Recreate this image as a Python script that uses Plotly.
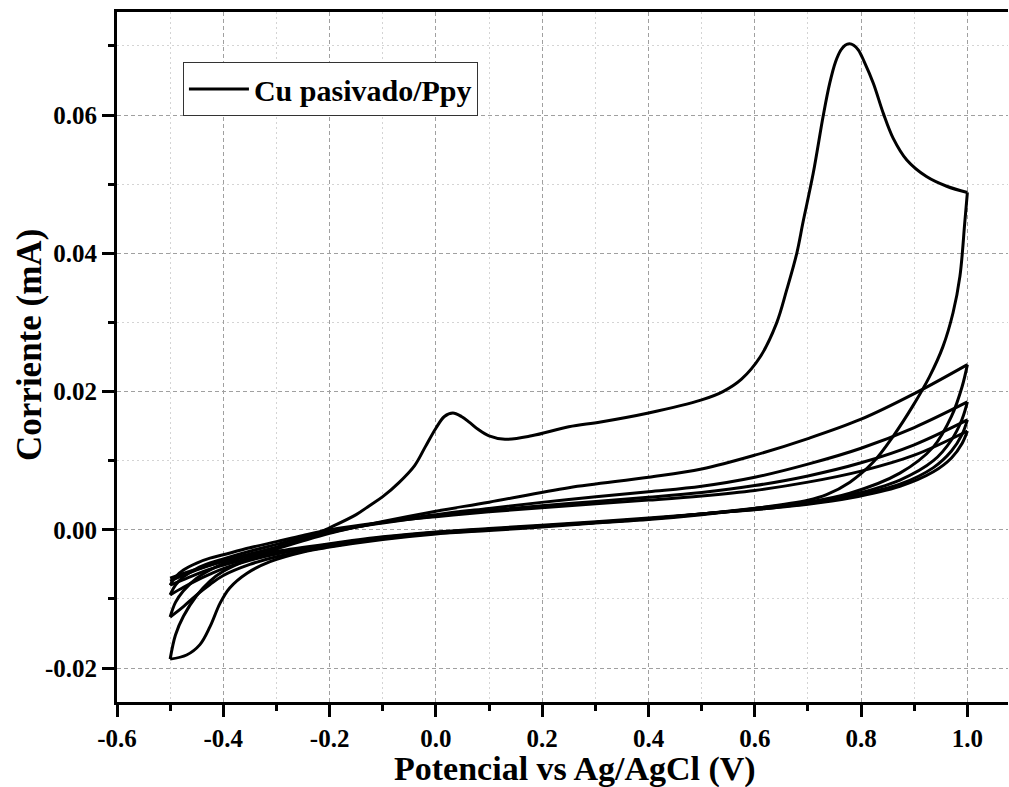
import plotly.graph_objects as go

# Cyclic voltammogram of passivated Cu / polypyrrole, 5 cycles (-0.5 V to 1.0 V)

# Cycle 1, anodic sweep
E_c1_fwd = [-0.5, -0.45, -0.4, -0.35, -0.3, -0.25, -0.2, -0.15, -0.125, -0.1, -0.07, -0.04,
            -0.02, 0.0, 0.016, 0.032, 0.048, 0.064, 0.08, 0.10, 0.13, 0.18, 0.25, 0.31,
            0.4, 0.5, 0.54, 0.575, 0.61, 0.641, 0.66, 0.679, 0.691, 0.71, 0.729, 0.741,
            0.752, 0.762, 0.770, 0.778, 0.786, 0.795, 0.806, 0.823, 0.842, 0.86, 0.886,
            0.923, 0.961, 1.0]
I_c1_fwd = [-0.0074, -0.0058, -0.0045, -0.0035, -0.0026, -0.0014, 0.0003, 0.0022, 0.0035,
            0.0048, 0.0068, 0.0093, 0.0120, 0.0147, 0.0164, 0.0169, 0.0164, 0.0155, 0.0145,
            0.0136, 0.0131, 0.0136, 0.0149, 0.0156, 0.0169, 0.0188, 0.0200, 0.0218, 0.0250,
            0.0299, 0.0347, 0.0400, 0.0446, 0.0516, 0.0600, 0.0646, 0.0677, 0.0694, 0.0701,
            0.0703, 0.0701, 0.0694, 0.0677, 0.0646, 0.0602, 0.0567, 0.0535, 0.0511, 0.0497,
            0.0488]

# Cycle 1, cathodic sweep
E_c1_rev = [1.0, 0.995, 0.986, 0.973, 0.954, 0.929, 0.898, 0.86, 0.823, 0.779, 0.735, 0.7,
            0.6, 0.5, 0.4, 0.3, 0.2, 0.1, 0.0, -0.1, -0.2, -0.25, -0.312, -0.356, -0.388,
            -0.406, -0.425, -0.444, -0.469, -0.5]
I_c1_rev = [0.0488, 0.0444, 0.0367, 0.0314, 0.0265, 0.0222, 0.0180, 0.0135, 0.0098, 0.0069,
            0.0051, 0.0043, 0.0031, 0.0022, 0.0015, 0.0010, 0.0004, -0.0001, -0.0006, -0.0014,
            -0.0025, -0.0032, -0.0046, -0.0063, -0.0084, -0.0106, -0.0140, -0.0166, -0.0181,
            -0.0187]

# Cycles 2-5 share the same potential steps
E_fwd = [-0.5, -0.49, -0.475, -0.45, -0.425, -0.4, -0.35, -0.3, -0.25, -0.2, -0.1, 0.0,
         0.1, 0.25, 0.4, 0.5, 0.6, 0.7, 0.8, 0.9, 1.0]
I_c2_fwd = [-0.0187, -0.0152, -0.0125, -0.0095, -0.0074, -0.0060, -0.0042, -0.0028, -0.0016,
            -0.0005, 0.0012, 0.0027, 0.0040, 0.0061, 0.0076, 0.0088, 0.0108, 0.0132, 0.0160,
            0.0197, 0.0239]
I_c3_fwd = [-0.0126, -0.0105, -0.0088, -0.0070, -0.0058, -0.0049, -0.0036, -0.0025, -0.0014,
            -0.0004, 0.0011, 0.0022, 0.0031, 0.0044, 0.0055, 0.0063, 0.0076, 0.0095, 0.0118,
            0.0148, 0.0185]
I_c4_fwd = [-0.0094, -0.0080, -0.0068, -0.0056, -0.0048, -0.0042, -0.0031, -0.0021, -0.0011,
            -0.0002, 0.0010, 0.0020, 0.0028, 0.0038, 0.0047, 0.0054, 0.0064, 0.0078, 0.0097,
            0.0123, 0.0159]
I_c5_fwd = [-0.0080, -0.0068, -0.0058, -0.0048, -0.0041, -0.0036, -0.0026, -0.0017, -0.0008,
            0.0000, 0.0011, 0.0019, 0.0026, 0.0035, 0.0043, 0.0049, 0.0057, 0.0069, 0.0085,
            0.0108, 0.0143]

E_rev = [1.0, 0.99, 0.97, 0.936, 0.873, 0.779, 0.7, 0.622, 0.5, 0.4, 0.25, 0.1, 0.0, -0.1,
         -0.2, -0.3, -0.35, -0.4, -0.425, -0.45, -0.475, -0.5]
I_c2_rev = [0.0239, 0.0207, 0.0164, 0.0120, 0.0082, 0.0053, 0.0040, 0.0033, 0.0023, 0.0016,
            0.0008, 0.0000, -0.0005, -0.0013, -0.0024, -0.0039, -0.0050, -0.0066, -0.0079,
            -0.0094, -0.0111, -0.0126]
I_c3_rev = [0.0185, 0.0160, 0.0130, 0.0100, 0.0072, 0.0050, 0.0039, 0.0032, 0.0023, 0.0016,
            0.0008, 0.0001, -0.0004, -0.0012, -0.0022, -0.0035, -0.0044, -0.0056, -0.0064,
            -0.0073, -0.0083, -0.0094]
I_c4_rev = [0.0159, 0.0138, 0.0114, 0.0090, 0.0066, 0.0048, 0.0038, 0.0031, 0.0023, 0.0016,
            0.0008, 0.0001, -0.0004, -0.0011, -0.0021, -0.0033, -0.0041, -0.0051, -0.0057,
            -0.0064, -0.0072, -0.0080]
I_c5_rev = [0.0143, 0.0125, 0.0104, 0.0084, 0.0063, 0.0046, 0.0037, 0.0031, 0.0023, 0.0017,
            0.0009, 0.0002, -0.0003, -0.0010, -0.0020, -0.0031, -0.0038, -0.0046, -0.0051,
            -0.0057, -0.0063, -0.0070]

x_tickvals = [-0.6, -0.4, -0.2, 0.0, 0.2, 0.4, 0.6, 0.8, 1.0]
x_ticktext = ["-0.6", "-0.4", "-0.2", "0.0", "0.2", "0.4", "0.6", "0.8", "1.0"]
x_minorvals = [-0.5, -0.3, -0.1, 0.1, 0.3, 0.5, 0.7, 0.9]
y_tickvals = [-0.02, 0.0, 0.02, 0.04, 0.06]
y_ticktext = ["-0.02", "0.00", "0.02", "0.04", "0.06"]
y_minorvals = [-0.01, 0.01, 0.03, 0.05, 0.07]

series_name = "Cu pasivado/Ppy"

sweeps = [
    (E_c1_fwd, I_c1_fwd), (E_c1_rev, I_c1_rev),
    (E_fwd, I_c2_fwd), (E_rev, I_c2_rev),
    (E_fwd, I_c3_fwd), (E_rev, I_c3_rev),
    (E_fwd, I_c4_fwd), (E_rev, I_c4_rev),
    (E_fwd, I_c5_fwd), (E_rev, I_c5_rev),
]

FONT = "Liberation Serif"

fig = go.Figure()
for k, (e, i) in enumerate(sweeps):
    fig.add_trace(go.Scatter(
        x=e, y=i, mode="lines", name=series_name,
        legendgroup="cv", showlegend=(k == 0),
        line=dict(color="black", width=3, shape="spline", smoothing=1.0),
    ))

axis_common = dict(
    tickmode="array", ticks="outside", ticklen=12, tickwidth=3, tickcolor="black",
    showline=True, linewidth=3, linecolor="black",
    tickfont=dict(family=FONT, size=25, color="black", weight="bold"),
    zeroline=False, showgrid=True, gridcolor="#a0a0a0", gridwidth=1, griddash="4px,3px",
)
minor_common = dict(tickmode="array", ticks="outside", ticklen=6, tickwidth=3,
                    tickcolor="black", showgrid=True, gridcolor="#d4d4d4", gridwidth=1,
                    griddash="2px,3px")

fig.update_xaxes(
    range=[-0.6, 1.0764], tickvals=x_tickvals,
    ticktext=["<b>%s</b>" % t for t in x_ticktext], mirror=True,
    minor=dict(tickvals=x_minorvals, **minor_common), **axis_common,
)
fig.update_yaxes(
    range=[-0.0249, 0.0749], tickvals=y_tickvals,
    ticktext=["<b>%s</b>" % t for t in y_ticktext], mirror=False,
    minor=dict(tickvals=y_minorvals, **minor_common), **axis_common,
)

fig.add_annotation(
    text="<b>Potencial vs Ag/AgCl (V)</b>", xref="paper", yref="paper", x=0.514, y=-0.097,
    xanchor="center", yanchor="middle", showarrow=False,
    font=dict(family=FONT, size=34, color="black"),
)
fig.add_annotation(
    text="<b>Corriente (mA)</b>", xref="paper", yref="paper", x=-0.098, y=0.517,
    xanchor="center", yanchor="middle", showarrow=False, textangle=-90,
    font=dict(family=FONT, size=35, color="black"),
)

fig.update_layout(
    width=1009, height=787,
    margin=dict(l=117, r=1, t=12, b=85),
    paper_bgcolor="white", plot_bgcolor="white",
    font=dict(family=FONT, color="black"),
    legend=dict(
        x=0.074, y=0.9275, xanchor="left", yanchor="top",
        bgcolor="white", bordercolor="#333333", borderwidth=1,
        font=dict(family=FONT, size=30, color="black", weight="bold"),
        itemwidth=60, tracegroupgap=0,
    ),
)

fig.write_html("out.html")
